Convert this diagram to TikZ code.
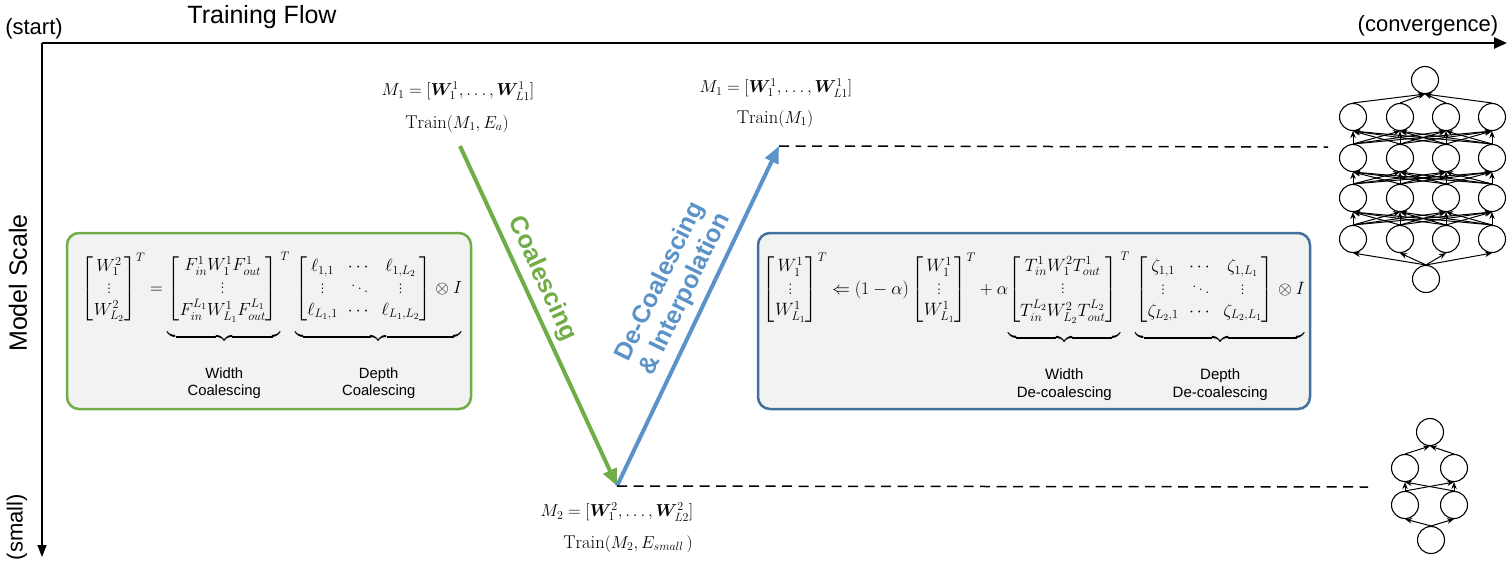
\documentclass[tikz,border=0pt]{standalone}
\usepackage{amsmath,amssymb,bm,mathtools,graphicx}
\usepackage{fontspec}
\newfontfamily\arialf{Liberation Sans}
\usetikzlibrary{arrows.meta}
\definecolor{cgreen}{RGB}{112,173,71}
\definecolor{cblue}{RGB}{91,147,200}
\definecolor{cbluedark}{RGB}{65,113,156}
\definecolor{boxfill}{RGB}{242,242,242}
\newcommand{\lab}[2]{\text{\fontsize{14.5}{17}\selectfont\arialf\begin{tabular}[t]{@{}c@{}}\rule{0pt}{33pt}#1\\#2\end{tabular}}}
\newcommand{\dn}{\rule[-36pt]{0pt}{0pt}}
\newcommand{\MF}{\begin{bmatrix} F_{in}^1W_1^1F_{out}^1\\ \vdots\\ F_{in}^{L_1}W_{L_1}^1F_{out}^{L_1}\end{bmatrix}}
\newcommand{\MTT}{\begin{bmatrix} T_{in}^1W_1^2T_{out}^1\\ \vdots\\ T_{in}^{L_2}W_{L_2}^2T_{out}^{L_2}\end{bmatrix}}
\begin{document}
\begin{tikzpicture}[x=1pt,y=-1pt,
  sans/.style={font=\fontsize{#1}{#1}\selectfont\arialf, inner sep=0pt},
  mth/.style={font=\fontsize{18.5}{22}\selectfont, inner sep=0pt},
  eqbox/.style={rounded corners=12pt, fill=boxfill, line width=2.5pt},
  dashln/.style={line width=1.5pt, dash pattern=on 10pt off 6.5pt},
  neuron/.style={circle, draw, line width=1.1pt, minimum size=27pt, inner sep=0pt},
  syn/.style={line width=1pt, -{Stealth[length=7pt,width=5.5pt]}}
]
\useasboundingbox (0,0) rectangle (1508,566);

% axes
\coordinate (O) at (42,43);
\coordinate (xend) at (1507,43);
\coordinate (yend) at (42,557);
\draw[line width=2.5pt, -{Triangle[length=13pt,width=11pt]}] (O) -- (xend);
\draw[line width=1.5pt, -{Triangle[length=12pt,width=9pt]}] (O) -- (yend);
\node[sans=22] (tstart) at (34,29) {(start)};
\node[sans=25] (tflow) at (262,17) {Training Flow};
\node[sans=22] (tconv) at (1428,26) {(convergence)};
\node[sans=25, rotate=90] (tscale) at (18,283) {Model Scale};
\node[sans=22, rotate=90] (tsmall) at (17,527) {(small)};

% model texts
\node[mth] (m1a) at (458,91) {$M_1 = [\bm{W}_1^1, \ldots, \bm{W}_{L1}^1]$};
\node[mth] (t1a) at (457,124) {$\mathrm{Train}(M_1, E_a)$};
\node[mth] (m1b) at (776,88) {$M_1 = [\bm{W}_1^1, \ldots, \bm{W}_{L1}^1]$};
\node[mth] (t1b) at (775,119) {$\mathrm{Train}(M_1)$};
\node[mth] (m2) at (617,512) {$M_2 = [\bm{W}_1^2, \ldots, \bm{W}_{L2}^2]$};
\node[mth] (t2) at (628,544) {$\mathrm{Train}(M_2, E_{small}\,)$};

% V arrows
\coordinate (gs) at (460,146);
\coordinate (vb) at (617,486);
\coordinate (bt) at (779,146);
\draw[cgreen, line width=4pt, -{Triangle[length=17pt,width=14pt]}] (gs) -- (vb);
\draw[cblue, line width=4pt, -{Triangle[length=17pt,width=14pt]}] (vb) -- (bt);
\node[font=\fontsize{25}{25}\selectfont\arialf\bfseries, inner sep=0pt, text=cgreen, rotate=-65.5] (lcoal) at (542,279) {Coalescing};
\node[font=\fontsize{25}{28}\selectfont\arialf\bfseries, inner sep=0pt, text=cblue, rotate=64, align=center] (ldecoal) at (673,288) {De-Coalescing\\\& Interpolation};

% dashed lines
\coordinate (d1) at (1328,147);
\coordinate (d2) at (1368,487);
\draw[dashln] (bt) -- (d1);
\draw[dashln] (vb) -- (d2);

% boxes
\draw[eqbox, draw=cgreen] (67,233) rectangle (471,409);
\draw[eqbox, draw=cbluedark] (758,233) rectangle (1310,409);

\node[inner sep=0pt, anchor=north] (eqL) at (272,252) {\resizebox{380pt}{!}{\fontsize{17.5}{21}\selectfont$\displaystyle
\begin{bmatrix} W_1^2\\ \vdots\\ W_{L_2}^2\end{bmatrix}^{T}
= \mathord{\underbrace{\MF\dn}_{\lab{Width}{Coalescing}}}\mathrlap{{\vphantom{\MF}}^{T}}\;\;\;
\mathord{\underbrace{\begin{bmatrix}\ell_{1,1}&\cdots&\ell_{1,L_2}\\ \vdots&\ddots&\vdots\\ \ell_{L_1,1}&\cdots&\ell_{L_1,L_2}\end{bmatrix}\otimes I\dn}_{\lab{Depth}{Coalescing}}}$}};

\node[inner sep=0pt, anchor=north] (eqR) at (1034,252) {\resizebox{542pt}{!}{\fontsize{17.5}{21}\selectfont$\displaystyle
\begin{bmatrix} W_1^1\\ \vdots\\ W_{L_1}^1\end{bmatrix}^{T}
\Leftarrow (1-\alpha)\begin{bmatrix} W_1^1\\ \vdots\\ W_{L_1}^1\end{bmatrix}^{T}
+ \alpha\mathord{\underbrace{\MTT\dn}_{\lab{Width}{De-coalescing}}}\mathrlap{{\vphantom{\MTT}}^{T}}\;\;\;
\mathord{\underbrace{\begin{bmatrix}\zeta_{1,1}&\cdots&\zeta_{1,L_1}\\ \vdots&\ddots&\vdots\\ \zeta_{L_2,1}&\cdots&\zeta_{L_2,L_1}\end{bmatrix}\otimes I\dn}_{\lab{Depth}{De-coalescing}}}$}};

% big network
\node[neuron] (Bt) at (1425,80) {};
\foreach \r/\y in {1/117,2/158,3/198,4/239}{
  \foreach \c/\x in {1/1353,2/1400,3/1446,4/1492}{
    \node[neuron] (B\r\c) at (\x,\y) {};
  }
}
\node[neuron] (Bb) at (1426,279) {};
\foreach \c in {1,2,3,4}{
  \draw[syn] (B1\c.north) -- (Bt.south);
  \draw[syn] (Bb.north) -- (B4\c.south);
  \foreach \d in {1,2,3,4}{
    \draw[syn] (B2\d.north) -- (B1\c.south);
    \draw[syn] (B3\d.north) -- (B2\c.south);
    \draw[syn] (B4\d.north) -- (B3\c.south);
  }
}

% small network
\node[neuron] (St) at (1430,432) {};
\node[neuron] (Sa1) at (1405,468) {};
\node[neuron] (Sa2) at (1454,468) {};
\node[neuron] (Sb1) at (1405,505) {};
\node[neuron] (Sb2) at (1454,505) {};
\node[neuron] (Sb) at (1431,540) {};
\foreach \c in {1,2}{
  \draw[syn] (Sa\c.north) -- (St.south);
  \draw[syn] (Sb.north) -- (Sb\c.south);
  \foreach \d in {1,2}{
    \draw[syn] (Sb\d.north) -- (Sa\c.south);
  }
}
\end{tikzpicture}
\end{document}
